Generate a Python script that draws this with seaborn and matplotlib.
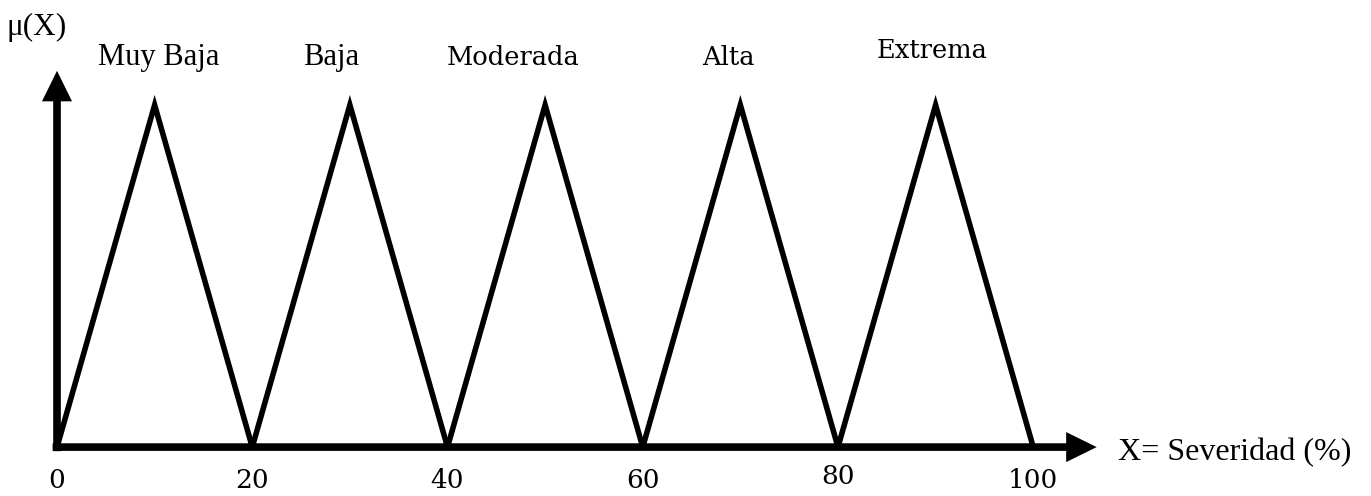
import matplotlib
matplotlib.use("Agg")
import matplotlib.pyplot as plt
import seaborn as sns
import pandas as pd

# Fuzzy sets for severity: (name, start, peak, end)
set_names = ["Muy Baja", "Baja", "Moderada", "Alta", "Extrema"]
set_starts = [0, 20, 40, 60, 80]
set_peaks = [10, 30, 50, 70, 90]
set_ends = [20, 40, 60, 80, 100]
tick_values = [0, 20, 40, 60, 80, 100]
tick_labels = ["0", "20", "40", "60", "80", "100"]

rows = []
for name, a, p, b in zip(set_names, set_starts, set_peaks, set_ends):
    rows += [(name, a, 0.0), (name, p, 1.0), (name, b, 0.0)]
df = pd.DataFrame(rows, columns=["conjunto", "x", "mu"])

sns.set_theme(style="white")
plt.rcParams["font.family"] = ["Liberation Serif", "DejaVu Serif"]

fig = plt.figure(figsize=(13.71, 4.96), dpi=100)
ax = fig.add_axes([0, 0, 1, 1])
ax.set_xlim(-5.84, 134.6)
ax.set_ylim(-0.143, 1.307)
ax.axis("off")

sns.lineplot(data=df, x="x", y="mu", hue="conjunto", units="conjunto",
             estimator=None, sort=False, palette=["black"] * len(set_names),
             linewidth=4.0, legend=False, ax=ax,
             solid_joinstyle="miter")

# Axes drawn as arrows
arrow_style = "-|>,head_length=0.65,head_width=0.32"
arrow_props = dict(arrowstyle=arrow_style, lw=5.5, color="black",
                   shrinkA=0, shrinkB=0, mutation_scale=20,
                   joinstyle="miter", capstyle="butt")
ax.annotate("", xy=(0, 1.10), xytext=(0, -0.012), arrowprops=arrow_props)
ax.annotate("", xy=(106.5, 0), xytext=(-0.45, 0), arrowprops=arrow_props)

# Set labels above each peak
label_x = [10.4, 28.1, 46.7, 68.8, 89.6]
label_y = [1.14, 1.14, 1.14, 1.14, 1.16]
label_fonts = ["Liberation Serif", "Liberation Serif", "DejaVu Serif",
               "DejaVu Serif", "DejaVu Serif"]
label_sizes = [22, 22, 18.5, 18.5, 18.5]
for name, lx, ly, fam, fs in zip(set_names, label_x, label_y, label_fonts, label_sizes):
    ax.text(lx, ly, name, ha="center", va="center", fontsize=fs,
            family=fam, color="black")

# Tick labels along the x axis
tick_y = [-0.098, -0.098, -0.098, -0.098, -0.085, -0.098]
for tv, tl, ty in zip(tick_values, tick_labels, tick_y):
    ax.text(tv, ty, tl, ha="center", va="center", fontsize=19,
            family="DejaVu Serif", color="black")

ax.text(-2.05, 1.228, "μ(X)", ha="center", va="center", fontsize=22.5,
        family="Liberation Serif", color="black")
ax.text(108.7, -0.015, "X= Severidad (%)", ha="left", va="center",
        fontsize=23, family="Liberation Serif", color="black")

fig.savefig("out.png", dpi=100, facecolor="white")
